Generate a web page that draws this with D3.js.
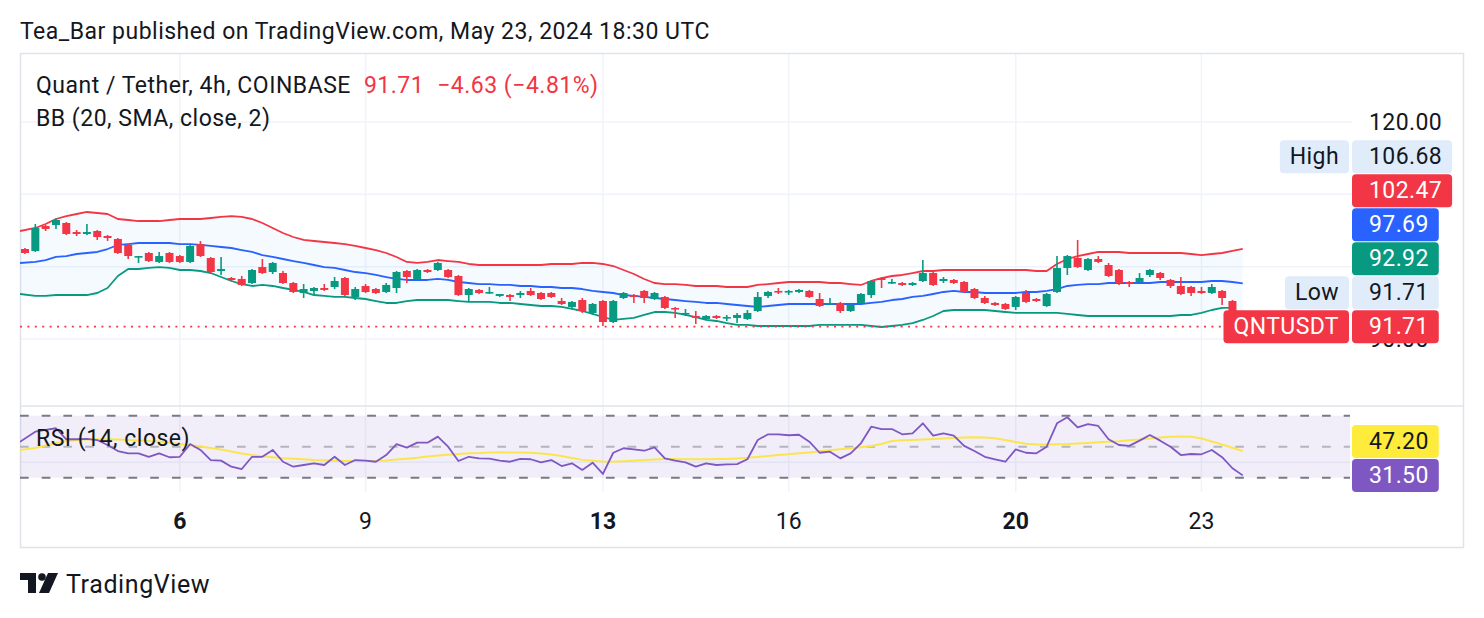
<!DOCTYPE html>
<html><head><meta charset="utf-8">
<script src="https://cdn.jsdelivr.net/npm/d3@7"></script>
<style>body{margin:0;background:#fff;}svg{display:block;font-family:Roboto,"Noto Sans",sans-serif;}</style>
</head><body><svg id="c" width="1484" height="618"></svg>
<script>
// ---------- data (4h bars) ----------
const openP = [102.44,102.17,105.62,105.76,106.04,104.79,104.52,104.93,104.24,103.83,
103.00,101.34,101.89,100.65,101.89,101.47,100.65,103.13,101.20,99.40,
98.43,98.30,97.74,99.95,99.26,99.12,97.74,96.36,96.64,97.05,
97.19,98.43,95.81,97.33,96.91,96.50,97.05,99.40,98.30,99.54,
99.54,99.54,98.71,96.08,96.78,96.36,95.95,96.08,96.08,96.64,
96.36,96.36,95.25,94.43,95.39,93.60,95.25,92.35,95.67,96.08,
96.64,95.53,95.81,94.29,93.46,93.18,92.77,93.18,92.91,92.91,
92.77,93.87,95.95,96.64,96.50,96.50,96.64,95.53,94.84,94.98,
93.87,94.98,96.08,98.43,97.74,97.74,97.47,98.02,99.12,98.02,
98.16,97.88,96.91,95.67,94.98,94.84,94.43,96.36,95.53,94.56,
96.50,99.82,101.20,99.54,101.06,100.23,99.54,97.88,97.88,98.85,
99.12,98.16,97.33,97.19,96.64,96.36,96.64,95.25,92.35];
const highP = [102.58,105.90,105.76,106.68,106.17,105.07,105.90,105.07,104.38,103.96,
103.13,101.47,102.03,102.03,102.03,101.61,103.00,103.55,101.34,101.34,
98.57,98.71,99.68,101.06,100.65,99.40,97.88,97.60,97.19,97.60,
98.57,98.57,97.19,97.60,97.05,97.74,99.40,99.54,99.68,99.68,
100.65,99.68,98.85,97.05,96.91,97.19,96.22,96.22,96.64,97.05,
96.50,96.50,95.67,95.25,95.67,94.98,95.39,95.39,96.50,96.22,
96.78,96.50,95.95,94.43,94.15,93.87,93.32,93.32,93.32,93.60,
94.01,96.50,96.64,97.05,96.78,96.91,96.78,96.36,95.67,95.12,
94.84,96.36,98.16,98.57,98.30,97.88,97.88,100.92,99.26,98.57,
98.30,98.02,97.05,95.95,95.12,94.98,95.95,96.78,95.67,96.36,
101.47,101.61,103.69,101.20,101.47,100.51,99.68,98.02,99.12,99.68,
99.26,98.30,98.57,97.33,97.19,97.60,96.78,95.39,92.50];
const lowP = [101.75,102.03,104.93,105.21,104.38,104.24,104.38,103.69,103.55,101.75,
101.06,100.51,100.65,100.51,100.51,100.51,100.51,101.34,99.12,98.85,
98.02,97.33,97.60,98.99,98.99,97.60,96.36,95.67,96.22,96.64,
96.91,95.95,95.39,96.36,96.22,96.36,96.36,97.74,98.16,99.12,
99.40,98.43,95.95,95.12,96.22,96.22,95.81,95.25,95.67,95.95,
95.39,95.67,94.70,94.15,93.60,93.32,91.80,92.21,95.53,94.98,
94.98,95.39,94.15,92.91,93.18,92.08,92.63,92.77,92.49,92.21,
92.63,93.73,95.67,96.22,96.08,96.36,95.67,94.43,94.70,93.60,
93.73,94.84,95.67,97.05,97.60,97.33,97.33,97.88,97.33,97.74,
97.60,96.36,95.53,94.84,94.56,94.01,94.01,94.98,95.12,94.43,
96.36,98.85,99.82,99.40,100.51,98.57,97.47,97.19,97.74,98.57,
98.16,97.05,96.08,95.95,96.22,96.22,94.70,92.21,91.71];
const closeP = [101.89,105.35,105.21,106.45,104.52,104.52,104.79,104.10,103.96,101.89,
101.47,101.47,100.78,101.47,100.65,100.65,102.86,101.47,99.26,99.68,
98.16,97.47,99.54,99.12,100.51,97.74,96.50,96.91,97.05,96.78,
98.02,96.08,96.91,96.50,96.36,97.47,99.26,98.57,99.54,99.26,
100.51,98.57,96.08,96.91,96.36,96.50,96.22,95.81,96.36,96.08,
95.53,95.81,94.84,95.12,93.87,94.84,92.35,95.25,96.36,95.81,
95.67,96.36,94.29,94.15,93.60,92.91,93.18,92.91,93.04,93.32,
93.60,95.81,96.50,96.50,96.64,96.78,95.81,94.56,94.98,93.87,
94.70,96.22,98.02,98.16,97.88,97.47,97.74,99.12,97.47,98.30,
97.74,96.50,95.67,94.98,94.70,94.15,95.81,95.12,95.25,96.22,
99.82,101.47,99.95,101.06,100.65,98.71,97.74,97.60,98.43,99.54,
98.43,97.33,96.22,96.36,96.36,97.19,95.67,92.35,91.71];
const bbUpper = [104.93,105.35,105.90,106.59,107.00,107.28,107.56,107.42,107.28,106.59,
106.45,106.31,106.31,106.31,106.45,106.59,106.59,106.59,106.73,106.87,
107.00,106.87,106.59,106.04,105.35,104.65,104.10,103.69,103.55,103.41,
103.27,103.13,102.86,102.58,102.30,101.89,101.34,100.65,100.51,100.65,
100.92,100.78,100.65,100.37,100.23,100.23,100.23,100.23,100.23,100.23,
100.23,100.37,100.37,100.37,100.51,100.51,100.37,100.09,99.54,98.99,
98.30,97.74,97.60,97.60,97.47,97.33,97.33,97.33,97.19,97.19,
97.19,97.47,97.60,97.74,97.88,97.88,97.88,97.88,97.74,97.74,
97.60,97.47,98.02,98.43,98.71,98.85,99.12,99.40,99.40,99.54,
99.54,99.54,99.54,99.54,99.54,99.54,99.54,99.54,99.40,99.40,
100.37,101.06,101.47,101.75,102.03,102.03,102.03,101.89,101.89,101.89,
101.89,101.89,101.89,101.75,101.61,101.75,101.89,102.17,102.47];
const bbBasis = [100.51,100.65,100.92,101.34,101.47,101.75,101.89,102.03,102.44,103.00,
103.13,103.27,103.27,103.27,103.27,103.13,103.13,103.00,102.86,102.72,
102.58,102.30,102.03,101.61,101.34,101.06,100.78,100.51,100.23,99.95,
99.82,99.54,99.26,99.12,98.85,98.57,98.30,98.16,98.16,98.16,
98.30,98.16,97.88,97.74,97.60,97.60,97.47,97.47,97.33,97.33,
97.19,97.19,97.05,97.05,96.91,96.64,96.50,96.36,96.08,95.95,
95.81,95.67,95.53,95.39,95.25,95.12,94.98,94.98,94.84,94.70,
94.56,94.43,94.56,94.70,94.84,94.84,94.84,94.84,94.84,94.84,
94.84,94.84,94.98,95.12,95.39,95.53,95.81,95.95,96.22,96.50,
96.64,96.50,96.50,96.36,96.36,96.36,96.36,96.50,96.50,96.64,
96.91,97.33,97.47,97.60,97.60,97.74,97.74,97.74,97.74,97.74,
97.88,97.88,97.88,97.88,97.88,98.02,98.02,97.88,97.69];
const bbLower = [96.22,95.95,95.95,96.08,96.08,96.08,96.08,96.36,97.05,98.71,
99.68,99.68,99.82,99.95,99.82,99.54,99.54,99.40,99.12,98.57,
98.02,97.60,97.33,97.47,97.33,97.05,96.78,96.50,96.08,95.95,
95.81,95.81,95.67,95.53,95.25,94.98,94.98,95.25,95.39,95.39,
95.39,95.39,95.25,95.12,95.12,95.12,94.98,94.98,94.84,94.70,
94.56,94.56,94.43,94.15,93.87,93.46,93.04,92.63,92.77,92.91,
93.32,93.73,93.73,93.60,93.32,93.04,92.63,92.49,92.21,91.94,
91.94,91.80,91.80,91.80,91.80,91.80,91.80,91.94,91.94,91.94,
91.94,91.94,91.80,91.66,91.80,91.94,92.21,92.63,93.18,93.87,
94.01,94.01,94.01,94.01,93.87,93.73,93.60,93.60,93.60,93.60,
93.60,93.46,93.32,93.18,93.18,93.18,93.18,93.18,93.18,93.18,
93.18,93.18,93.32,93.32,93.60,94.01,94.29,94.29,92.92];
const rsi = [53.2,59.7,60.8,61.9,54.8,54.8,55.0,54.3,51.1,47.2,
45.7,45.7,43.5,45.7,43.2,43.5,51.7,47.9,41.4,41.0,
37.1,35.6,43.5,43.5,47.9,40.3,37.1,38.2,39.3,38.2,
43.5,38.2,41.4,41.0,40.3,44.6,51.7,49.4,52.6,52.6,
56.5,50.0,40.8,43.5,42.5,42.3,41.0,40.3,42.1,41.9,
39.9,41.4,37.5,39.3,35.0,39.7,32.4,46.1,49.0,48.3,
47.4,49.6,42.5,41.0,39.9,37.1,39.3,38.2,38.6,38.8,
41.9,54.3,58.0,58.0,57.4,57.7,53.2,46.1,46.8,42.5,
45.7,52.2,62.9,61.4,61.4,58.0,58.6,65.1,57.1,58.6,
57.1,50.5,47.2,43.5,41.9,40.3,48.3,46.1,45.7,50.0,
65.1,69.0,62.5,64.6,63.4,54.8,51.1,50.5,53.9,57.5,
53.9,50.0,44.6,45.3,45.1,47.9,43.2,36.1,31.5];
const rsiMa = [47.9,49.2,50.8,52.4,53.7,54.3,54.6,54.8,54.8,54.6,
54.3,54.1,53.7,53.4,52.6,51.7,50.9,50.1,49.2,48.2,
46.9,45.6,44.6,43.9,43.2,42.5,42.2,41.9,41.4,41.2,
41.0,40.8,40.8,40.8,40.8,41.1,41.7,42.2,42.8,43.7,
44.3,44.8,45.3,45.7,45.9,46.3,46.4,46.3,46.3,46.1,
45.6,45.0,44.0,42.7,41.5,41.0,40.5,40.3,40.6,41.0,
41.4,41.7,42.1,42.1,41.9,41.9,41.9,42.0,42.1,42.4,
42.8,43.4,44.0,44.6,45.2,45.7,46.3,47.0,47.7,48.3,
49.0,49.7,50.5,51.7,53.7,54.1,54.3,54.6,55.0,55.3,
55.6,55.9,56.1,55.9,55.5,54.3,53.0,51.9,51.5,51.5,
51.6,51.7,52.1,52.4,52.8,53.2,53.5,54.1,54.6,55.3,
55.9,56.4,56.5,56.4,55.3,53.4,51.4,49.3,47.2];
const dayTickIndex = [15, 33, 56, 74, 96, 114];
const dayTickLabel = ["6", "9", "13", "16", "20", "23"];
const dayTickMonday = [true, false, true, false, true, false];
const priceTicks = [120, 110, 100, 90];
const rsiLevels = [70, 50, 30];
const rsiGrid = [40];
const titleText = "Tea_Bar published on TradingView.com, May 23, 2024 18:30 UTC";
const symbolText = "Quant / Tether, 4h, COINBASE";
const lastText = "91.71";
const changeText = "\u22124.63 (\u22124.81%)";
const bbLegend = "BB (20, SMA, close, 2)";
const rsiLegend = "RSI (14, close)";
const highValue = 106.68, lowValue = 91.71, lastValue = 91.71;

// ---------- layout ----------
const C = {red:"#f23645", green:"#089981", blue:"#2962ff", purple:"#7e57c2", yellow:"#ffeb3b",
  text:"#131722", grid:"#f0f3fa", border:"#e0e3eb", pale:"#e1ecfb"};
const FS = 23, LS = 0.5;
const L = 20, R = 1464, T = 53, B = 548, paneR = 1352, sep = 406, rsiB = 492;
const n = closeP.length;
const x = d3.scaleLinear().domain([0, n - 1]).range([25, 25 + (n - 1) * 10.32]);
const y = d3.scaleLinear().domain([90, 120]).range([339, 122]);
const yr = d3.scaleLinear().domain([30, 70]).range([477.7, 415.7]);
const svg = d3.select("#c");
const idx = d3.range(n);
// line x: the first point is carried to the pane's left edge (previous bar is off-screen)
const lx = i => i === 0 ? L : x(i);

const defs = svg.append("defs");
defs.append("clipPath").attr("id","cp").append("rect").attr("x",L).attr("y",T).attr("width",paneR-L).attr("height",sep-T);
defs.append("clipPath").attr("id","cr").append("rect").attr("x",L).attr("y",sep).attr("width",paneR-L).attr("height",rsiB-sep);

// title
svg.append("text").attr("x",L).attr("y",31).attr("dominant-baseline","central")
  .attr("font-size",FS).attr("letter-spacing",LS).attr("fill",C.text).text(titleText);

// grid
const g = svg.append("g");
g.selectAll(".vg").data(dayTickIndex).join("line")
  .attr("x1",d=>x(d)).attr("x2",d=>x(d)).attr("y1",T).attr("y2",rsiB)
  .attr("stroke",C.grid).attr("stroke-width",1.5);
g.selectAll(".hg").data(priceTicks).join("line")
  .attr("x1",L).attr("x2",paneR).attr("y1",d=>y(d)).attr("y2",d=>y(d))
  .attr("stroke",C.grid).attr("stroke-width",1.5);
g.selectAll(".rg").data(rsiGrid).join("line")
  .attr("x1",L).attr("x2",paneR).attr("y1",d=>yr(d)).attr("y2",d=>yr(d))
  .attr("stroke",C.grid).attr("stroke-width",1.5);

// frame
svg.append("rect").attr("x",L+0.5).attr("y",T+0.5).attr("width",R-L-1).attr("height",B-T-1)
  .attr("fill","none").attr("stroke",C.border).attr("stroke-width",1.5);
svg.append("line").attr("x1",L).attr("x2",R).attr("y1",sep).attr("y2",sep)
  .attr("stroke",C.border).attr("stroke-width",1.5);

// price pane
const pp = svg.append("g").attr("clip-path","url(#cp)");
pp.append("path").datum(idx)
  .attr("d", d3.area().x(lx).y0(i=>y(bbLower[i])).y1(i=>y(bbUpper[i])))
  .attr("fill","#2196f3").attr("fill-opacity",0.05);
[[bbUpper,C.red],[bbBasis,C.blue],[bbLower,C.green]].forEach(([arr,col])=>{
  pp.append("path").datum(idx).attr("d", d3.line().x(lx).y(i=>y(arr[i])))
    .attr("fill","none").attr("stroke",col).attr("stroke-width",1.8).attr("stroke-linejoin","round");
});
const cg = pp.selectAll(".cd").data(idx).join("g");
cg.append("line").attr("x1",i=>x(i)).attr("x2",i=>x(i))
  .attr("y1",i=>y(highP[i])).attr("y2",i=>y(lowP[i]))
  .attr("stroke",i=>closeP[i]>=openP[i]?C.green:C.red).attr("stroke-width",1.6);
cg.append("rect").attr("x",i=>x(i)-4).attr("width",8)
  .attr("y",i=>y(Math.max(openP[i],closeP[i])))
  .attr("height",i=>Math.max(1.6, Math.abs(y(openP[i])-y(closeP[i]))))
  .attr("fill",i=>closeP[i]>=openP[i]?C.green:C.red);
// last price dotted line
pp.append("line").attr("x1",L).attr("x2",1224).attr("y1",y(lastValue)).attr("y2",y(lastValue))
  .attr("stroke",C.red).attr("stroke-width",1.8).attr("stroke-dasharray","2,5.4");

// RSI pane
const rp = svg.append("g").attr("clip-path","url(#cr)");
rp.append("rect").attr("x",L).attr("width",paneR-2-L).attr("y",yr(70)).attr("height",yr(30)-yr(70))
  .attr("fill",C.purple).attr("fill-opacity",0.1);
rp.selectAll(".rl").data(rsiLevels).join("line")
  .attr("x1",L).attr("x2",paneR-2).attr("y1",d=>yr(d)).attr("y2",d=>yr(d))
  .attr("stroke",d=>d===50?"#b2b5be":"#787b86").attr("stroke-width",2)
  .attr("stroke-dasharray","8.7,13");
rp.append("path").datum(idx).attr("d", d3.line().x(lx).y(i=>yr(rsiMa[i])))
  .attr("fill","none").attr("stroke","#fbe54f").attr("stroke-width",2);
rp.append("path").datum(idx).attr("d", d3.line().x(lx).y(i=>yr(rsi[i])))
  .attr("fill","none").attr("stroke",C.purple).attr("stroke-width",1.8).attr("stroke-linejoin","round");

// legends
const lg = svg.append("g").attr("font-size",FS).attr("letter-spacing",LS);
const t1 = lg.append("text").attr("x",36).attr("y",85).attr("dominant-baseline","central").attr("fill",C.text).text(symbolText);
const w1 = t1.node().getComputedTextLength();
const t2 = lg.append("text").attr("x",36+w1+13).attr("y",85).attr("dominant-baseline","central").attr("fill",C.red).text(lastText);
const w2 = t2.node().getComputedTextLength();
lg.append("text").attr("x",36+w1+13+w2+13).attr("y",85).attr("dominant-baseline","central").attr("fill",C.red).text(changeText);
lg.append("text").attr("x",36).attr("y",118).attr("dominant-baseline","central").attr("fill",C.text).text(bbLegend);
lg.append("text").attr("x",36).attr("y",438).attr("dominant-baseline","central").attr("fill",C.text).text(rsiLegend);

// stacked value labels
function stack(items){
  let prev = null;
  items.forEach(it=>{
    let c = it.pos;
    if(prev!==null) c = Math.min(c, prev - 34);
    it.cy = c; prev = c;
  });
  return items;
}
const priceLabels = stack([
  {name:"QNTUSDT", v:lastValue, fill:C.red, fg:"#fff", nameFill:C.red, nameFg:"#fff", pos:y(lastValue)},
  {name:"Low", v:lowValue, fill:C.pale, fg:C.text, nameFill:C.pale, nameFg:C.text, pos:y(lowValue)},
  {name:null, v:bbLower[n-1], fill:C.green, fg:"#fff", pos:y(bbLower[n-1])},
  {name:null, v:bbBasis[n-1], fill:C.blue, fg:"#fff", pos:y(bbBasis[n-1])},
  {name:null, v:bbUpper[n-1], fill:C.red, fg:"#fff", pos:y(bbUpper[n-1])},
  {name:"High", v:highValue, fill:C.pale, fg:C.text, nameFill:C.pale, nameFg:C.text, pos:y(highValue)}
]);
const rsiLabels = stack([
  {name:null, v:rsi[n-1], fill:C.purple, fg:"#fff", pos:yr(rsi[n-1])},
  {name:null, v:rsiMa[n-1], fill:C.yellow, fg:C.text, pos:yr(rsiMa[n-1])}
]);

// price axis tick labels (a tick label that sits under a value label is hidden, as on the original scale)
const visibleTicks = priceTicks.filter(t => !priceLabels.some(l => Math.abs(l.cy - y(t)) < 10.5));
svg.selectAll(".pt").data(visibleTicks).join("text")
  .attr("x",1369).attr("y",d=>y(d)).attr("dominant-baseline","central")
  .attr("font-size",FS).attr("letter-spacing",0.4).attr("fill",C.text).text(d=>d.toFixed(2));

function drawLabels(items){
  items.slice().reverse().forEach(it=>{
    const gg = svg.append("g").attr("font-size",FS).attr("letter-spacing",0.4);
    const tv = gg.append("text").attr("x",1369).attr("y",it.cy).attr("dominant-baseline","central")
      .attr("fill",it.fg).text(it.v.toFixed(2));
    const tw = tv.node().getComputedTextLength();
    gg.insert("rect","text").attr("x",paneR).attr("y",it.cy-16.5).attr("width",1369+tw+10-paneR).attr("height",33)
      .attr("rx",4).attr("fill",it.fill);
    if(it.name){
      const tn = gg.append("text").attr("x",paneR-13).attr("y",it.cy).attr("dominant-baseline","central")
        .attr("text-anchor","end").attr("fill",it.nameFg).text(it.name);
      const nw = tn.node().getComputedTextLength();
      gg.insert("rect","text").attr("x",paneR-3-nw-20).attr("y",it.cy-16.5).attr("width",nw+20).attr("height",33)
        .attr("rx",4).attr("fill",it.nameFill);
    }
  });
}
drawLabels(priceLabels);
drawLabels(rsiLabels);

// time axis
svg.selectAll(".tl").data(dayTickIndex).join("text")
  .attr("x",d=>x(d)).attr("y",521).attr("text-anchor","middle").attr("dominant-baseline","central")
  .attr("font-size",FS).attr("fill",C.text)
  .attr("font-weight",(d,i)=>dayTickMonday[i]?700:400)
  .text((d,i)=>dayTickLabel[i]);

// TradingView logo
const lo = svg.append("g").attr("fill",C.text);
lo.append("path").attr("d","M20,573 H36 V593 H28 V580 H20 Z");
lo.append("circle").attr("cx",42).attr("cy",577).attr("r",3.8);
lo.append("path").attr("d","M48,573 H58 L49,593 H39 Z");
svg.append("text").attr("x",66).attr("y",584).attr("dominant-baseline","central")
  .attr("font-size",25).attr("letter-spacing",0.6).attr("fill",C.text).text("TradingView");
</script></body></html>
